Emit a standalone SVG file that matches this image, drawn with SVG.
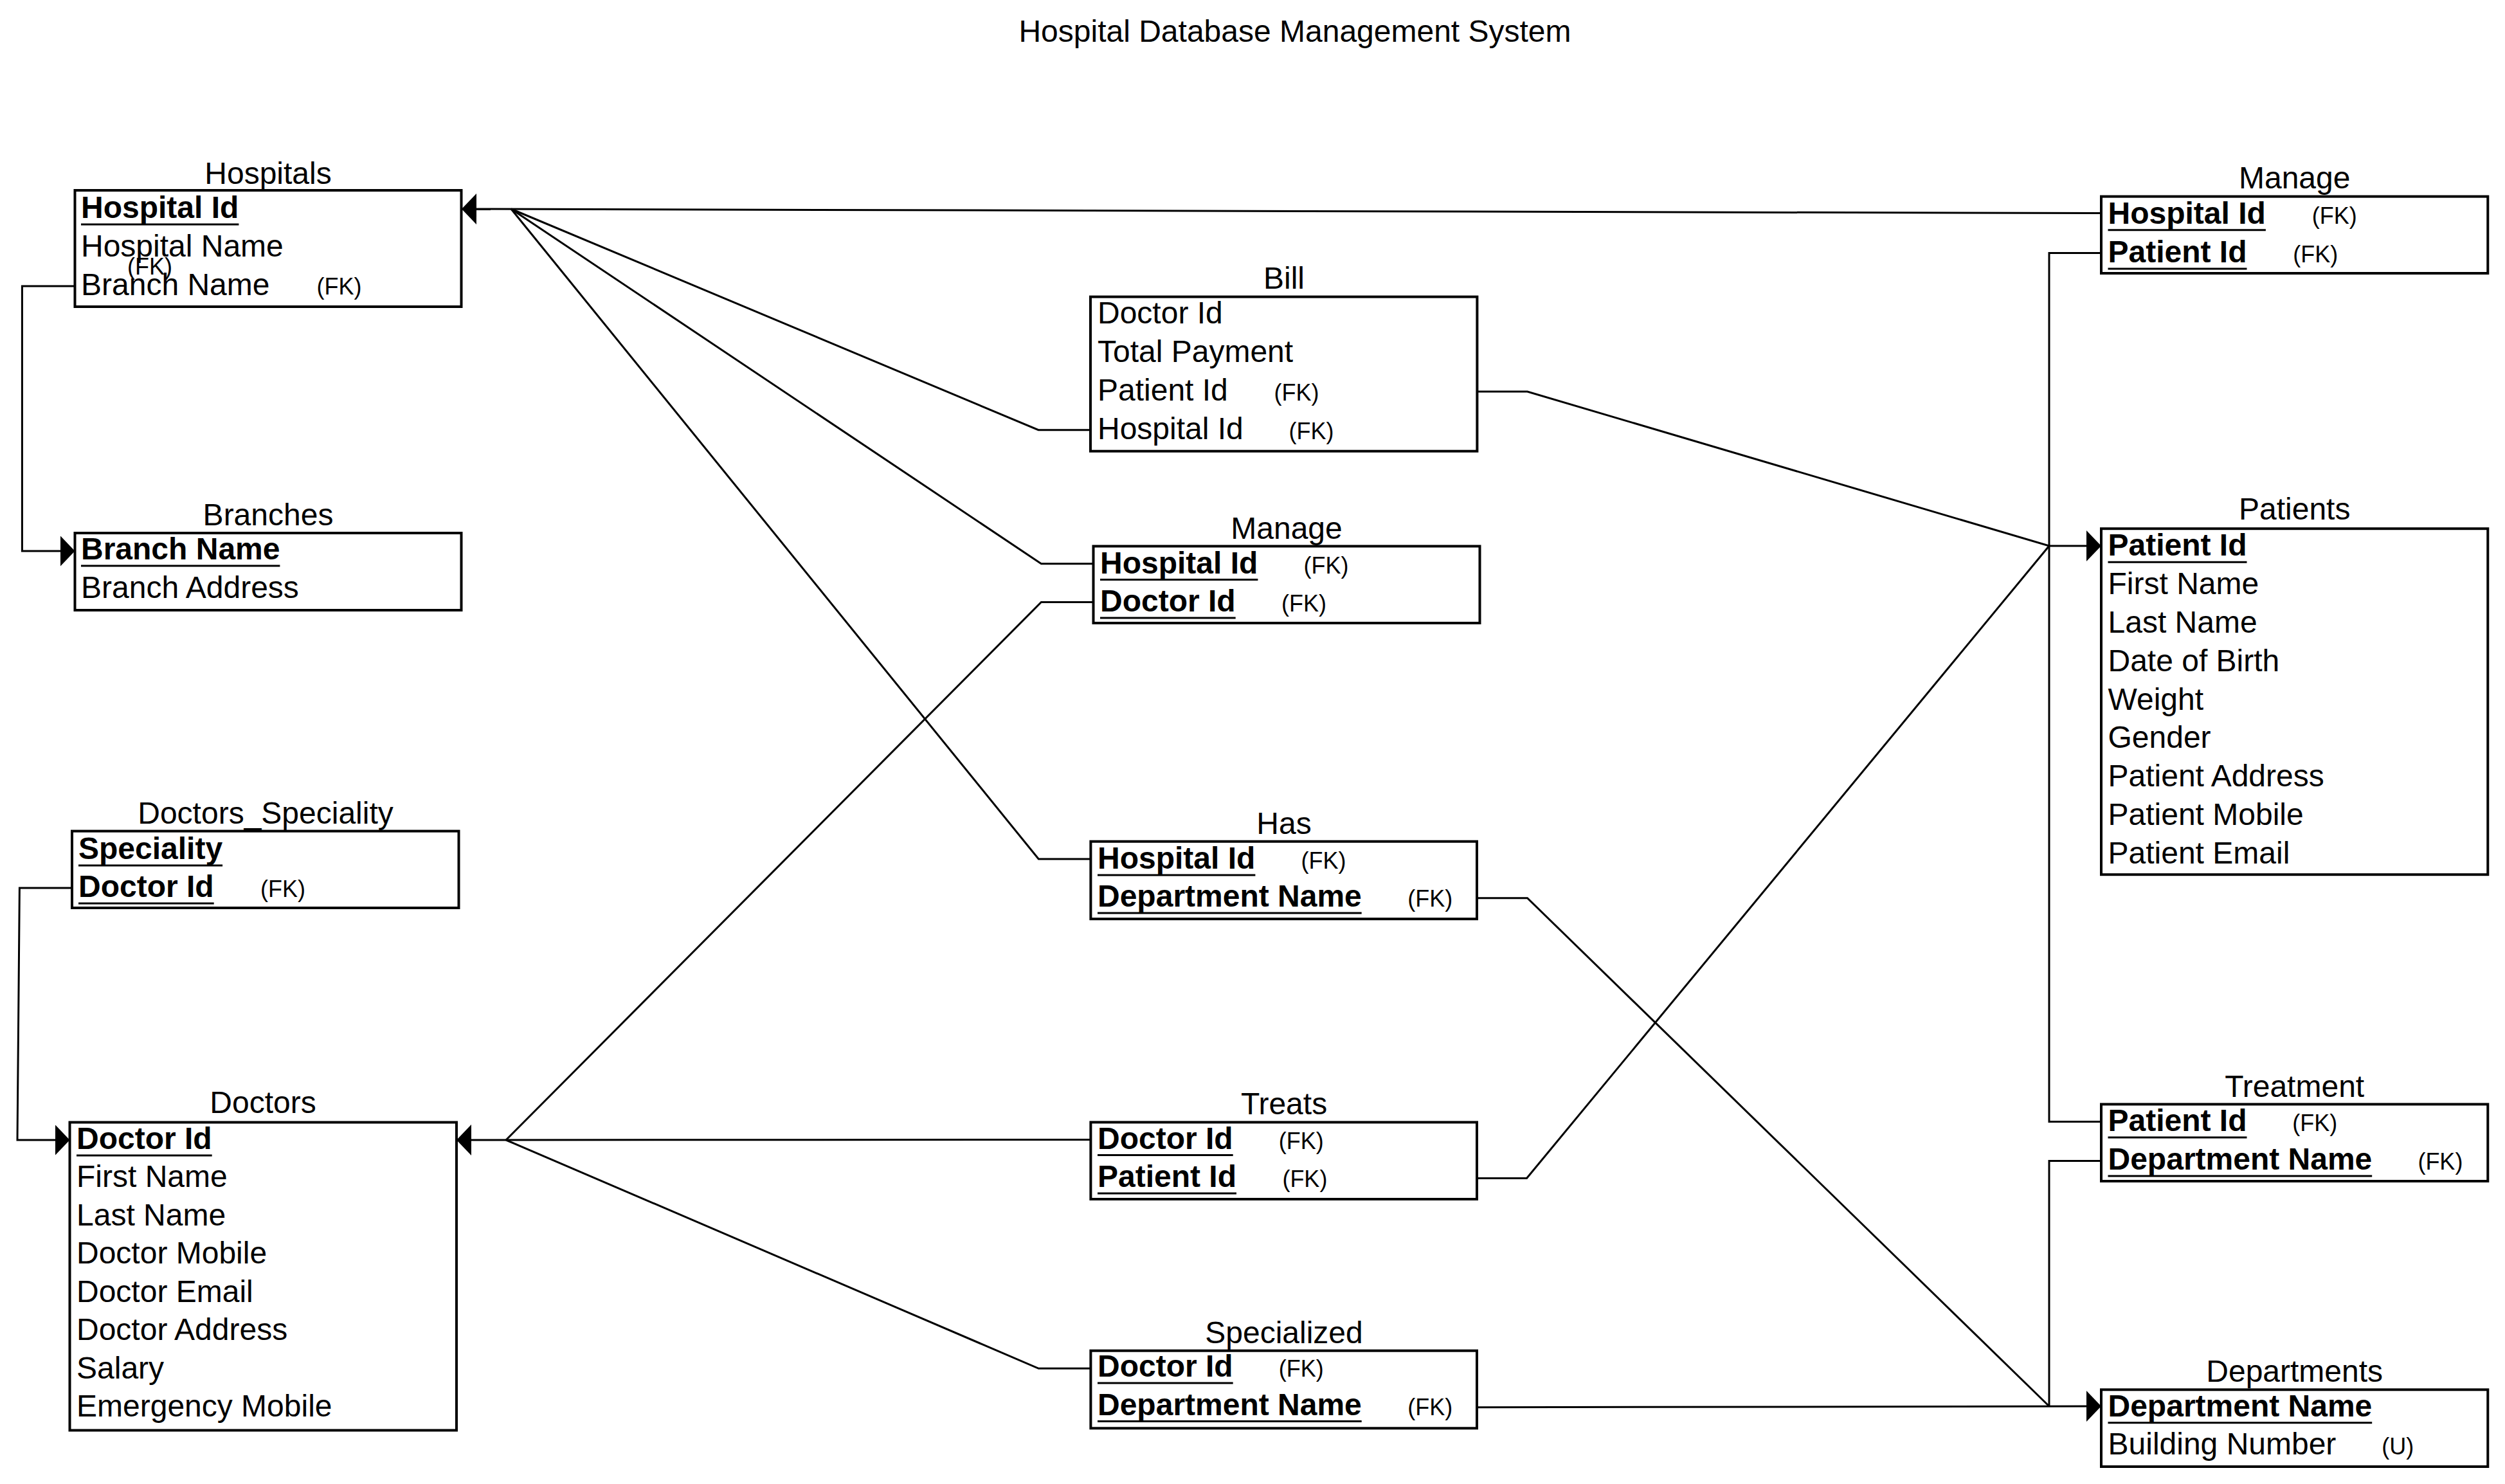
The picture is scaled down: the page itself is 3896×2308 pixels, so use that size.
<svg xmlns="http://www.w3.org/2000/svg" width="3896" height="2308" viewBox="0 0 3896 2308">
<style>
text{font-family:"Liberation Sans",Arial,sans-serif;font-size:48px;fill:#000}
.b{font-weight:bold}
.fk{font-size:36px}
.ttl{text-anchor:middle}
.box{fill:#fff;stroke:#000;stroke-width:4}
.ul{stroke:#000;stroke-width:3}
.conn{fill:none;stroke:#000;stroke-width:3}
.arr{marker-end:url(#arrow)}
</style>
<defs>
<marker id="arrow" markerUnits="userSpaceOnUse" markerWidth="23" markerHeight="48" viewBox="0 -24 23 48" refX="23" refY="0" orient="auto">
<path d="M0,-24 L23,0 L0,24 Z" fill="#000"/>
</marker>
</defs>
<rect x="0" y="0" width="3896" height="2308" fill="#fff"/>
<text x="2014" y="65" class="ttl">Hospital Database Management System</text>

<g id="connectors">
<path class="conn arr" d="M3268,331.6 L718,325"/>
<path class="conn" d="M1696,668.7 L1615,668.7 L795,325"/>
<path class="conn" d="M1700.5,876.7 L1619.4,876.7 L795,325"/>
<path class="conn" d="M1696.4,1336 L1615.3,1336 L795,325"/>
<path class="conn arr" d="M116.5,445 L34.4,445 L34.4,857 L116.5,857"/>
<path class="conn arr" d="M112,1381 L30.4,1381 L27,1773 L108.5,1773"/>
<path class="conn arr" d="M1696.4,1772.5 L710,1773"/>
<path class="conn" d="M1700.5,936.5 L1619.4,936.5 L787,1773"/>
<path class="conn" d="M1696.4,2128.3 L1615.3,2128.3 L787,1773"/>
<path class="conn arr" d="M2297.4,609 L2375.5,609 L3187,849 L3268,849"/>
<path class="conn" d="M2297,1832.5 L2374.5,1832.5 L3187,849"/>
<path class="conn" d="M3268,393.6 L3187,393.6 L3187,849"/>
<path class="conn" d="M3268,1744.5 L3187,1744.5 L3187,849"/>
<path class="conn" d="M3268,1805.4 L3187,1805.4 L3187,2187"/>
<path class="conn" d="M2297,1396.7 L2375.5,1396.7 L3187,2187"/>
<path class="conn arr" d="M2297,2188.8 L3268,2187"/>
</g>

<g id="hospitals">
<text x="417" y="286" class="ttl">Hospitals</text>
<rect class="box" x="116.5" y="296" width="601" height="181"/>
<text x="126" y="339" class="b">Hospital Id</text>
<line class="ul" x1="126" y1="349" x2="371.4" y2="349"/>
<text x="126" y="399">Hospital Name</text>
<text x="198" y="427" class="fk">(FK)</text>
<text x="126" y="459">Branch Name</text>
<text x="492.5" y="458" class="fk">(FK)</text>
</g>

<g id="branches">
<text x="417" y="817" class="ttl">Branches</text>
<rect class="box" x="116.5" y="829" width="601" height="120"/>
<text x="126" y="870" class="b">Branch Name</text>
<line class="ul" x1="126" y1="880" x2="435.4" y2="880"/>
<text x="126" y="930">Branch Address</text>
</g>

<g id="doctors_speciality">
<text x="413" y="1281" class="ttl">Doctors_Speciality</text>
<rect class="box" x="112" y="1292.6" width="601.5" height="119.4"/>
<text x="122" y="1336" class="b">Speciality</text>
<line class="ul" x1="122" y1="1346" x2="346.1" y2="1346"/>
<text x="122" y="1395" class="b">Doctor Id</text>
<line class="ul" x1="122" y1="1405" x2="332.7" y2="1405"/>
<text x="405" y="1395" class="fk">(FK)</text>
</g>

<g id="doctors">
<text x="409" y="1731" class="ttl">Doctors</text>
<rect class="box" x="108.5" y="1745.5" width="601.5" height="479"/>
<text x="119" y="1786.5" class="b">Doctor Id</text>
<line class="ul" x1="119" y1="1797" x2="329.7" y2="1797"/>
<text x="119" y="1846">First Name</text>
<text x="119" y="1905.5">Last Name</text>
<text x="119" y="1965">Doctor Mobile</text>
<text x="119" y="2024.5">Doctor Email</text>
<text x="119" y="2084">Doctor Address</text>
<text x="119" y="2143.5">Salary</text>
<text x="119" y="2203">Emergency Mobile</text>
</g>

<g id="bill">
<text x="1997" y="449" class="ttl">Bill</text>
<rect class="box" x="1696" y="461.6" width="601.4" height="240.1"/>
<text x="1707" y="503">Doctor Id</text>
<text x="1707" y="563">Total Payment</text>
<text x="1707" y="623">Patient Id</text>
<text x="1981.6" y="623" class="fk">(FK)</text>
<text x="1707" y="682.5">Hospital Id</text>
<text x="2004.6" y="682.5" class="fk">(FK)</text>
</g>

<g id="manage_doctor">
<text x="2001" y="837.5" class="ttl">Manage</text>
<rect class="box" x="1700.5" y="849.5" width="601" height="119.5"/>
<text x="1711" y="891.6" class="b">Hospital Id</text>
<line class="ul" x1="1711" y1="901.6" x2="1956.4" y2="901.6"/>
<text x="2027.6" y="891.6" class="fk">(FK)</text>
<text x="1711" y="951" class="b">Doctor Id</text>
<line class="ul" x1="1711" y1="961" x2="1921.7" y2="961"/>
<text x="1993" y="951" class="fk">(FK)</text>
</g>

<g id="has">
<text x="1997" y="1297" class="ttl">Has</text>
<rect class="box" x="1696.4" y="1308.7" width="600.6" height="120.5"/>
<text x="1707" y="1351" class="b">Hospital Id</text>
<line class="ul" x1="1707" y1="1361" x2="1952.4" y2="1361"/>
<text x="2023.5" y="1351" class="fk">(FK)</text>
<text x="1707" y="1410" class="b">Department Name</text>
<line class="ul" x1="1707" y1="1420" x2="2117.7" y2="1420"/>
<text x="2189.3" y="1410" class="fk">(FK)</text>
</g>

<g id="treats">
<text x="1997" y="1733" class="ttl">Treats</text>
<rect class="box" x="1696.4" y="1745.4" width="600.6" height="119.6"/>
<text x="1707" y="1786.5" class="b">Doctor Id</text>
<line class="ul" x1="1707" y1="1796.5" x2="1917.7" y2="1796.5"/>
<text x="1988.8" y="1786.5" class="fk">(FK)</text>
<text x="1707" y="1846" class="b">Patient Id</text>
<line class="ul" x1="1707" y1="1856" x2="1923" y2="1856"/>
<text x="1994.4" y="1846" class="fk">(FK)</text>
</g>

<g id="specialized">
<text x="1997" y="2088.5" class="ttl">Specialized</text>
<rect class="box" x="1696.4" y="2100.7" width="600.6" height="120.6"/>
<text x="1707" y="2141" class="b">Doctor Id</text>
<line class="ul" x1="1707" y1="2151" x2="1917.7" y2="2151"/>
<text x="1988.8" y="2141" class="fk">(FK)</text>
<text x="1707" y="2200.5" class="b">Department Name</text>
<line class="ul" x1="1707" y1="2210.5" x2="2117.7" y2="2210.5"/>
<text x="2189.3" y="2200.5" class="fk">(FK)</text>
</g>

<g id="manage_patient">
<text x="3568.7" y="293.4" class="ttl">Manage</text>
<rect class="box" x="3268" y="305.6" width="601.3" height="119.4"/>
<text x="3278.5" y="347.7" class="b">Hospital Id</text>
<line class="ul" x1="3278.5" y1="357.7" x2="3523.9" y2="357.7"/>
<text x="3595.8" y="347.7" class="fk">(FK)</text>
<text x="3278.5" y="408" class="b">Patient Id</text>
<line class="ul" x1="3278.5" y1="418" x2="3494.5" y2="418"/>
<text x="3566.3" y="408" class="fk">(FK)</text>
</g>

<g id="patients">
<text x="3568.7" y="808.4" class="ttl">Patients</text>
<rect class="box" x="3268" y="822.2" width="601.3" height="538"/>
<text x="3278.5" y="864.3" class="b">Patient Id</text>
<line class="ul" x1="3278.5" y1="874.3" x2="3494.5" y2="874.3"/>
<text x="3278.5" y="924.1">First Name</text>
<text x="3278.5" y="983.9">Last Name</text>
<text x="3278.5" y="1043.7">Date of Birth</text>
<text x="3278.5" y="1103.5">Weight</text>
<text x="3278.5" y="1163.3">Gender</text>
<text x="3278.5" y="1223.1">Patient Address</text>
<text x="3278.5" y="1282.9">Patient Mobile</text>
<text x="3278.5" y="1342.7">Patient Email</text>
</g>

<g id="treatment">
<text x="3568.7" y="1706" class="ttl">Treatment</text>
<rect class="box" x="3268" y="1717.4" width="601.3" height="119.6"/>
<text x="3278.5" y="1759" class="b">Patient Id</text>
<line class="ul" x1="3278.5" y1="1769" x2="3494.5" y2="1769"/>
<text x="3565.3" y="1759" class="fk">(FK)</text>
<text x="3278.5" y="1819" class="b">Department Name</text>
<line class="ul" x1="3278.5" y1="1829" x2="3689.2" y2="1829"/>
<text x="3760.4" y="1819" class="fk">(FK)</text>
</g>

<g id="departments">
<text x="3568.7" y="2148.6" class="ttl">Departments</text>
<rect class="box" x="3268" y="2161.3" width="601.3" height="119.7"/>
<text x="3278.5" y="2202.8" class="b">Department Name</text>
<line class="ul" x1="3278.5" y1="2212.8" x2="3689.2" y2="2212.8"/>
<text x="3278.5" y="2261.5">Building Number</text>
<text x="3704.3" y="2261.5" class="fk">(U)</text>
</g>
</svg>
